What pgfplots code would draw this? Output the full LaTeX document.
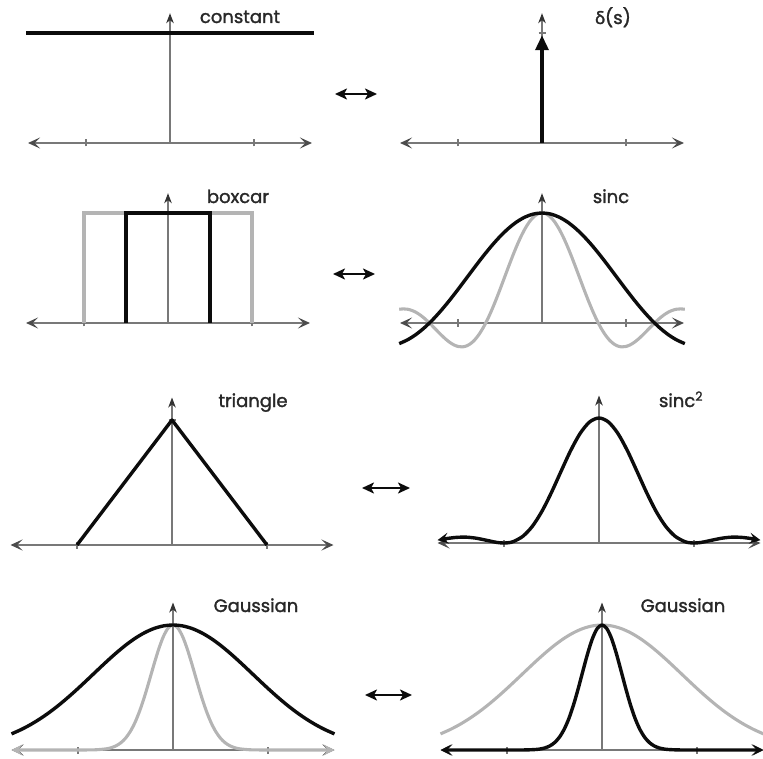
\documentclass[border=0pt]{standalone}
\usepackage{fontspec}
\setmainfont{Poppins}
\newfontfamily\lblfont{Poppins}[FakeBold=1.6]
\newfontfamily\grk{Lato}[FakeBold=1.6]
\usepackage{pgfplots}
\pgfplotsset{compat=1.18}
\usetikzlibrary{arrows.meta}

\definecolor{axgray}{RGB}{120,120,120}
\definecolor{curvegray}{RGB}{180,180,180}
\definecolor{ink}{RGB}{12,12,12}
\definecolor{labelink}{RGB}{40,40,40}

\tikzset{
  axtip/.tip={Stealth[length=12pt,width=11pt,inset=5.5pt,color=black!70]},
  ytip/.tip={Stealth[length=10pt,width=7.5pt,inset=3pt,color=black!80]},
  endtip/.tip={Stealth[length=11pt,width=11pt,inset=4.5pt]},
  lbl/.style={anchor=base, labelink, font=\lblfont\fontsize{18}{21}\selectfont},
  pair/.style={ink, line width=2.4pt,
    {Stealth[length=12pt,width=11pt,inset=3pt]}-{Stealth[length=12pt,width=11pt,inset=3pt]}},
}

\pgfplotsset{
  panel/.style={
    anchor=origin,
    axis lines=middle,
    enlargelimits=false,
    clip=false,
    ymin=0, ymax=1.18,
    xtick={-1,1}, ytick={1},
    xticklabels={}, yticklabels={},
    tick align=center,
    major tick length=7pt,
    tick style={axgray, line width=1.2pt},
    axis line style={axgray, line width=1.2pt},
    x axis line style={axtip-axtip},
    y axis line style={-ytip},
  },
  row12/.style={panel, x=84pt, y=110pt, xmin=-1.69, xmax=1.69},
  row34/.style={panel, x=95pt, y=125pt, xmin=-1.7, xmax=1.7},
  blk/.style={ink, line width=3.4pt, line join=round, no marks},
  gry/.style={curvegray, line width=3.1pt, line join=round, no marks},
}

\begin{document}
\begin{tikzpicture}
\useasboundingbox (0pt,0pt) rectangle (763pt,-759pt);

% ---------- row 1: constant <-> delta ----------
\begin{axis}[row12, at={(170pt,-143pt)}]
  \addplot[blk] coordinates {(-1.71,1) (1.71,1)};
\end{axis}
\begin{axis}[row12, at={(542pt,-143pt)}]
  \addplot[blk, -{Triangle[length=15pt,width=13pt]}] coordinates {(0,0) (0,0.98)};
\end{axis}

% ---------- row 2: boxcar <-> sinc ----------
\begin{axis}[row12, at={(168pt,-323pt)}]
  \addplot[gry, line join=miter] coordinates {(-1,0) (-1,1) (1,1) (1,0)};
  \addplot[blk, line join=miter] coordinates {(-0.5,0) (-0.5,1) (0.5,1) (0.5,0)};
\end{axis}
\begin{axis}[row12, at={(542pt,-323pt)}]
  \addplot[gry, smooth] coordinates {
    (-1.70,0.1246) (-1.65,0.1284) (-1.60,0.1251) (-1.55,0.1146) (-1.50,0.0969)
    (-1.45,0.0726) (-1.40,0.0423) (-1.35,0.0074) (-1.30,-0.0306) (-1.25,-0.0699)
    (-1.20,-0.1085) (-1.15,-0.1442) (-1.10,-0.1750) (-1.05,-0.1986) (-1.00,-0.2132)
    (-0.95,-0.2171) (-0.90,-0.2088) (-0.85,-0.1875) (-0.80,-0.1526) (-0.75,-0.1042)
    (-0.70,-0.0427) (-0.65,0.0307) (-0.60,0.1146) (-0.55,0.2069) (-0.50,0.3051)
    (-0.45,0.4067) (-0.40,0.5086) (-0.35,0.6078) (-0.30,0.7014) (-0.25,0.7862)
    (-0.20,0.8597) (-0.15,0.9197) (-0.10,0.9638) (-0.05,0.9909) (0,1)
    (0.05,0.9909) (0.10,0.9638) (0.15,0.9197) (0.20,0.8597) (0.25,0.7862)
    (0.30,0.7014) (0.35,0.6078) (0.40,0.5086) (0.45,0.4067) (0.50,0.3051)
    (0.55,0.2069) (0.60,0.1146) (0.65,0.0307) (0.70,-0.0427) (0.75,-0.1042)
    (0.80,-0.1526) (0.85,-0.1875) (0.90,-0.2088) (0.95,-0.2171) (1.00,-0.2132)
    (1.05,-0.1986) (1.10,-0.1750) (1.15,-0.1442) (1.20,-0.1085) (1.25,-0.0699)
    (1.30,-0.0306) (1.35,0.0074) (1.40,0.0423) (1.45,0.0726) (1.50,0.0969)
    (1.55,0.1146) (1.60,0.1251) (1.65,0.1284) (1.70,0.1246)};
  \addplot[blk, smooth] coordinates {
    (-1.7,-0.1875) (-1.6,-0.1526) (-1.5,-0.1042) (-1.4,-0.0427) (-1.3,0.0307)
    (-1.2,0.1146) (-1.1,0.2069) (-1.0,0.3051) (-0.9,0.4067) (-0.8,0.5086)
    (-0.7,0.6078) (-0.6,0.7014) (-0.5,0.7862) (-0.4,0.8597) (-0.3,0.9197)
    (-0.2,0.9638) (-0.1,0.9909) (0,1) (0.1,0.9909) (0.2,0.9638)
    (0.3,0.9197) (0.4,0.8597) (0.5,0.7862) (0.6,0.7014) (0.7,0.6078)
    (0.8,0.5086) (0.9,0.4067) (1.0,0.3051) (1.1,0.2069) (1.2,0.1146)
    (1.3,0.0307) (1.4,-0.0427) (1.5,-0.1042) (1.6,-0.1526) (1.7,-0.1875)};
\end{axis}

% ---------- row 3: triangle <-> sinc^2 ----------
\begin{axis}[row34, at={(172pt,-545pt)}]
  \addplot[blk] coordinates {(-1,0) (0,1) (1,0)};
\end{axis}
\begin{axis}[row34, at={(599pt,-543pt)}]
  \addplot[blk, smooth, endtip-endtip] coordinates {
    (-1.7,0.0229) (-1.6,0.0358) (-1.5,0.0450) (-1.4,0.0468) (-1.3,0.0392)
    (-1.2,0.0243) (-1.1,0.0080) (-1.05,0.0022) (-1.0,0) (-0.95,0.0027)
    (-0.9,0.0119) (-0.8,0.0547) (-0.7,0.1353) (-0.6,0.2546) (-0.5,0.4053)
    (-0.4,0.5728) (-0.3,0.7368) (-0.2,0.8751) (-0.1,0.9675) (0,1)
    (0.1,0.9675) (0.2,0.8751) (0.3,0.7368) (0.4,0.5728) (0.5,0.4053)
    (0.6,0.2546) (0.7,0.1353) (0.8,0.0547) (0.9,0.0119) (0.95,0.0027)
    (1.0,0) (1.05,0.0022) (1.1,0.0080) (1.2,0.0243) (1.3,0.0392)
    (1.4,0.0468) (1.5,0.0450) (1.6,0.0358) (1.7,0.0229)};
\end{axis}

% ---------- row 4: Gaussian <-> Gaussian ----------
\begin{axis}[row34, at={(173pt,-750pt)}]
  \addplot[gry, smooth, endtip-endtip] coordinates {
    (-1.7,0) (-1.3,0) (-1.0,0.0001) (-0.9,0.0005) (-0.8,0.0024) (-0.7,0.0097)
    (-0.65,0.0184) (-0.6,0.0333) (-0.55,0.0573) (-0.5,0.0941) (-0.45,0.1475)
    (-0.4,0.2204) (-0.35,0.3142) (-0.3,0.4271) (-0.25,0.5539) (-0.2,0.6852)
    (-0.15,0.8084) (-0.1,0.9098) (-0.05,0.9766) (0,1)
    (0.05,0.9766) (0.1,0.9098) (0.15,0.8084) (0.2,0.6852) (0.25,0.5539)
    (0.3,0.4271) (0.35,0.3142) (0.4,0.2204) (0.45,0.1475) (0.5,0.0941)
    (0.55,0.0573) (0.6,0.0333) (0.65,0.0184) (0.7,0.0097) (0.8,0.0024)
    (0.9,0.0005) (1.0,0.0001) (1.3,0) (1.7,0)};
  \addplot[blk, smooth] coordinates {
    (-1.7,0.1290) (-1.6,0.1630) (-1.5,0.2030) (-1.4,0.2494) (-1.3,0.3019)
    (-1.2,0.3604) (-1.1,0.4243) (-1.0,0.4923) (-0.9,0.5633) (-0.8,0.6354)
    (-0.7,0.7067) (-0.6,0.7748) (-0.5,0.8377) (-0.4,0.8928) (-0.3,0.9382)
    (-0.2,0.9721) (-0.1,0.9929) (0,1) (0.1,0.9929) (0.2,0.9721)
    (0.3,0.9382) (0.4,0.8928) (0.5,0.8377) (0.6,0.7748) (0.7,0.7067)
    (0.8,0.6354) (0.9,0.5633) (1.0,0.4923) (1.1,0.4243) (1.2,0.3604)
    (1.3,0.3019) (1.4,0.2494) (1.5,0.2030) (1.6,0.1630) (1.7,0.1290)};
\end{axis}
\begin{axis}[row34, at={(602pt,-750pt)}]
  \addplot[gry, smooth] coordinates {
    (-1.7,0.1290) (-1.6,0.1630) (-1.5,0.2030) (-1.4,0.2494) (-1.3,0.3019)
    (-1.2,0.3604) (-1.1,0.4243) (-1.0,0.4923) (-0.9,0.5633) (-0.8,0.6354)
    (-0.7,0.7067) (-0.6,0.7748) (-0.5,0.8377) (-0.4,0.8928) (-0.3,0.9382)
    (-0.2,0.9721) (-0.1,0.9929) (0,1) (0.1,0.9929) (0.2,0.9721)
    (0.3,0.9382) (0.4,0.8928) (0.5,0.8377) (0.6,0.7748) (0.7,0.7067)
    (0.8,0.6354) (0.9,0.5633) (1.0,0.4923) (1.1,0.4243) (1.2,0.3604)
    (1.3,0.3019) (1.4,0.2494) (1.5,0.2030) (1.6,0.1630) (1.7,0.1290)};
  \addplot[blk, smooth, endtip-endtip] coordinates {
    (-1.7,0) (-1.3,0) (-1.0,0) (-0.9,0.0001) (-0.8,0.0007) (-0.7,0.0039)
    (-0.65,0.0083) (-0.6,0.0169) (-0.55,0.0324) (-0.5,0.0588) (-0.45,0.1007)
    (-0.4,0.1630) (-0.35,0.2494) (-0.3,0.3604) (-0.25,0.4923) (-0.2,0.6354)
    (-0.15,0.7748) (-0.1,0.8928) (-0.05,0.9721) (0,1)
    (0.05,0.9721) (0.1,0.8928) (0.15,0.7748) (0.2,0.6354) (0.25,0.4923)
    (0.3,0.3604) (0.35,0.2494) (0.4,0.1630) (0.45,0.1007) (0.5,0.0588)
    (0.55,0.0324) (0.6,0.0169) (0.65,0.0083) (0.7,0.0039) (0.8,0.0007)
    (0.9,0.0001) (1.0,0) (1.3,0) (1.7,0)};
\end{axis}

% ---------- transform-pair arrows ----------
\draw[pair] (335pt,-94pt) -- (377pt,-94pt);
\draw[pair] (333pt,-274pt) -- (375pt,-274pt);
\draw[pair] (362pt,-488pt) -- (410pt,-488pt);
\draw[pair] (365pt,-695pt) -- (412pt,-695pt);

% ---------- panel names ----------
\node[lbl] at (240pt,-23pt) {constant};
\node[lbl] at (613pt,-24pt) {{\grk δ}(s)};
\node[lbl] at (238pt,-203pt) {boxcar};
\node[lbl] at (611pt,-203pt) {sinc};
\node[lbl] at (253pt,-407pt) {triangle};
\node[lbl] at (681pt,-407pt) {sinc\textsuperscript{2}};
\node[lbl] at (256pt,-612pt) {Gaussian};
\node[lbl] at (683pt,-612pt) {Gaussian};
\end{tikzpicture}
\end{document}
